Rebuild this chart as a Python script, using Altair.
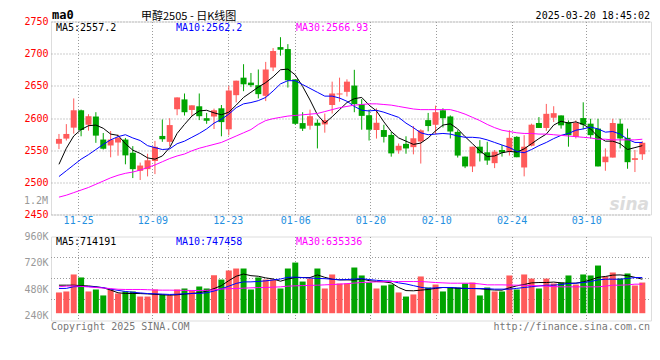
import altair as alt
import pandas as pd

# ---------------- data ----------------
opens = [2560, 2568, 2585, 2612, 2589.5, 2602.3, 2566.5, 2557.3, 2561.9, 2566.5,
         2546, 2517.9, 2520.5, 2533.2, 2572.1, 2562.9, 2613.6, 2628.9, 2612.5, 2618.2,
         2599.7, 2602.3, 2615.1, 2582.4, 2635.5, 2662.7, 2655, 2650.9, 2634.5, 2678.5,
         2710.2, 2707.2, 2660.1, 2592.1, 2588, 2592.6, 2590, 2620.2, 2636.6, 2640.7,
         2650.4, 2621.2, 2604.3, 2581.3, 2581.3, 2573.7, 2549.6, 2559.8, 2554.7, 2563.4,
         2596.7, 2589.5, 2612, 2602.4, 2578.4, 2540, 2524.7, 2555.4, 2546.7, 2529.8,
         2550.3, 2547.7, 2570.7, 2523.1, 2556.9, 2592.2, 2584.5, 2600.4, 2604, 2593.7,
         2570.7, 2599.9, 2591.2, 2583.5, 2531.3, 2538.5, 2591.2, 2569.2, 2534.9, 2543.6]
highs = [2575.2, 2590.5, 2630.4, 2613, 2605.9, 2609, 2576.7, 2579.8, 2574.2, 2569,
         2556.3, 2530.7, 2544.5, 2564.4, 2597.7, 2599.7, 2632, 2638.1, 2619.7, 2638.1,
         2607.9, 2614.6, 2620.2, 2649.9, 2658, 2683.6, 2670, 2675.4, 2687.2, 2708.7,
         2725.6, 2714.8, 2660.1, 2609, 2613, 2597.7, 2606.9, 2656.5, 2662.7, 2660.1,
         2674.9, 2629.4, 2613, 2615.1, 2589.5, 2578.3, 2560.4, 2571.6, 2587.5, 2582.4,
         2607.9, 2619.2, 2615.1, 2604, 2581, 2540, 2555.4, 2565.6, 2563, 2550.3,
         2557.9, 2581, 2571.7, 2573.3, 2591.2, 2601.4, 2621.9, 2618.3, 2604, 2596.3,
         2596.3, 2624.4, 2598.8, 2598.8, 2552.8, 2598.8, 2598.8, 2583.5, 2550.3, 2564]
lows = [2551.7, 2565, 2575.7, 2571.6, 2580.3, 2561.4, 2551, 2538.9, 2541.4, 2528,
        2506.6, 2503.6, 2509.2, 2512.8, 2563, 2556.3, 2604.3, 2603.8, 2603.3, 2596.7,
        2591, 2582.9, 2571.6, 2573.1, 2624.3, 2641.7, 2648, 2630.4, 2626.3, 2672.9,
        2696.9, 2647.3, 2589.5, 2579.8, 2581.8, 2552.7, 2577.2, 2606.9, 2625.3, 2633.5,
        2609, 2581.8, 2565, 2568, 2561.9, 2539.9, 2544.5, 2544.5, 2543.5, 2529.2,
        2579.3, 2574.7, 2585.4, 2568.2, 2538.5, 2522.1, 2516, 2532.4, 2527.2, 2522.1,
        2540, 2541.6, 2539, 2509.3, 2555.9, 2584.5, 2579.9, 2593.7, 2583.5, 2555.4,
        2568.2, 2582.5, 2568.2, 2524.7, 2518, 2538.5, 2552.8, 2521.1, 2516, 2534.9]
closes = [2567.5, 2575.2, 2612, 2581.3, 2602.8, 2572.6, 2552.2, 2566.5, 2569, 2541.9,
          2520.5, 2526.1, 2534.3, 2555.2, 2567, 2589, 2632, 2609, 2619.7, 2602.8,
          2595.7, 2612, 2593.6, 2642.7, 2658, 2652.4, 2651, 2637.1, 2675.4, 2704.1,
          2706.1, 2658.6, 2591, 2583.4, 2602.8, 2588, 2596.7, 2638.1, 2638.1, 2656.5,
          2621.7, 2603.3, 2581.8, 2592.6, 2570.6, 2545, 2556.8, 2552.7, 2568.5, 2580.8,
          2587.5, 2609, 2599.7, 2579, 2541.6, 2524.7, 2555.4, 2545.1, 2533.9, 2547.7,
          2546.2, 2569.2, 2539, 2555.4, 2589.6, 2584.5, 2606.5, 2607.5, 2588.6, 2573.3,
          2592.2, 2589.6, 2573.3, 2524.7, 2540, 2592.2, 2568.2, 2531.3, 2537.5, 2561.5]
ma5 = [2528, 2553, 2572, 2582, 2588, 2589, 2584, 2575, 2573, 2560,
       2550, 2545, 2538, 2536, 2541, 2554, 2576, 2590, 2603, 2611,
       2612, 2608, 2605, 2609, 2620, 2632, 2640, 2648, 2655, 2664,
       2675, 2676, 2667, 2649, 2628, 2605, 2592, 2602, 2613, 2624,
       2630, 2632, 2620, 2611, 2594, 2579, 2569, 2564, 2559, 2561,
       2569, 2580, 2589, 2591, 2583, 2571, 2560, 2549, 2540, 2541,
       2546, 2548, 2547, 2552, 2560, 2568, 2575, 2589, 2595, 2592,
       2594, 2590, 2583, 2571, 2564, 2564, 2560, 2551, 2554, 2557]
ma10 = [2509, 2518, 2527, 2536, 2543, 2551, 2559, 2566, 2571, 2574,
        2569, 2565, 2557, 2554, 2551, 2552, 2560, 2564, 2570, 2576,
        2583, 2592, 2598, 2606, 2616, 2622, 2624, 2627, 2632, 2642,
        2653, 2658, 2658, 2652, 2646, 2640, 2634, 2634, 2631, 2626,
        2618, 2612, 2611, 2612, 2609, 2605, 2601, 2592, 2585, 2577,
        2574, 2575, 2576, 2575, 2572, 2570, 2570, 2569, 2566, 2562,
        2558, 2554, 2548, 2546, 2551, 2557, 2562, 2568, 2573, 2576,
        2581, 2583, 2586, 2583, 2578, 2579, 2575, 2567, 2562, 2562]
ma30 = [2477, 2480, 2484, 2488, 2492, 2497, 2502, 2507, 2511, 2514,
        2516, 2519, 2523, 2527, 2532, 2537, 2541, 2544, 2549, 2553,
        2556, 2559, 2562, 2567, 2572, 2577, 2582, 2590, 2596, 2599,
        2601, 2603, 2604, 2605, 2606, 2607, 2610, 2613, 2616, 2618,
        2620, 2621, 2622, 2622, 2621, 2620, 2618, 2616, 2614, 2613,
        2613, 2613, 2613, 2613, 2610, 2606, 2601, 2596, 2590, 2585,
        2581, 2579, 2577, 2576, 2576, 2575, 2575, 2574, 2573, 2572,
        2571, 2570, 2569, 2567, 2567, 2566, 2566, 2566, 2566, 2567]
volume_k = [453, 462, 616, 589, 462, 480, 426, 480, 444, 462,
            462, 416, 416, 480, 435, 426, 480, 489, 471, 507,
            489, 609, 570, 652, 670, 670, 480, 589, 570, 570,
            489, 670, 724, 552, 579, 670, 489, 616, 534, 534,
            679, 607, 543, 489, 516, 525, 453, 416, 435, 598,
            498, 525, 462, 498, 498, 534, 543, 426, 498, 462,
            462, 607, 480, 616, 579, 489, 579, 534, 543, 607,
            525, 616, 607, 697, 598, 634, 579, 625, 516, 543]
vma5 = [519, 519, 519, 515, 512, 505, 495, 475, 450, 444,
        444, 443, 440, 436, 432, 428, 432, 438, 444, 450,
        465, 488, 515, 560, 600, 620, 605, 600, 585, 575,
        555, 575, 588, 588, 588, 612, 590, 573, 567, 567,
        565, 575, 560, 552, 549, 540, 498, 470, 468, 474,
        480, 490, 498, 496, 490, 489, 489, 486, 480, 475,
        474, 495, 513, 525, 540, 543, 543, 547, 540, 537,
        537, 549, 567, 590, 598, 610, 612, 605, 590, 573]
vma10 = [489, 490, 505, 507, 507, 502, 497, 483, 472, 462,
         455, 449, 443, 441, 438, 435, 437, 441, 444, 444,
         450, 466, 486, 510, 535, 549, 549, 553, 558, 566,
         575, 590, 592, 588, 584, 580, 578, 573, 568, 570,
         575, 578, 570, 563, 558, 556, 540, 530, 515, 500,
         490, 495, 498, 498, 494, 490, 489, 489, 487, 483,
         483, 483, 490, 498, 505, 512, 519, 519, 525, 534,
         537, 543, 552, 567, 573, 573, 573, 580, 588, 588]
vma30 = [505, 510, 513, 508, 503, 498, 493, 488, 482, 480,
         480, 480, 478, 475, 474, 474, 473, 472, 471, 471,
         472, 477, 484, 487, 489, 492, 495, 497, 498, 501,
         504, 510, 513, 515, 517, 519, 522, 525, 528, 533,
         538, 543, 546, 549, 551, 552, 552, 552, 552, 552,
         548, 543, 540, 537, 537, 537, 536, 530, 522, 522,
         522, 520, 519, 519, 515, 513, 510, 506, 504, 504,
         504, 504, 504, 504, 510, 519, 519, 522, 528, 528]

tick_pos = [2.6, 12.65, 22.86, 32.0, 42.17, 51.1, 61.3, 71.4]
tick_labels = ["11-25", "12-09", "12-23", "01-06", "01-20", "02-10", "02-24", "03-10"]
price_ticks = [2450, 2500, 2550, 2600, 2650, 2700, 2750]
vol_ticks = [240, 480, 720, 960]
price_ma_labels = ["MA5:2557.2", "MA10:2562.2", "MA30:2566.93"]
vol_ma_labels = ["MA5:714191", "MA10:747458", "MA30:635336"]
title_code = "ma0"
title_name = "甲醇2505 - 日K线图"
timestamp = "2025-03-20 18:45:02"
overlay_label = "1.2M"
footer_left = "Copyright 2025 SINA.COM"
footer_right = "http://finance.sina.com.cn"
watermark = "sina"

# ---------------- styles ----------------
RED = "#ff5a5a"
GREEN = "#00a400"
MA_COLORS = ["#000000", "#0000ff", "#ff00ff"]
GRID = "#9a9a9a"
MONO = "DejaVu Sans Mono"
W, H1, H2 = 600, 193, 84

n = len(closes)
df = pd.DataFrame({
    "i": list(range(n)), "open": opens, "high": highs, "low": lows, "close": closes,
    "ma5": ma5, "ma10": ma10, "ma30": ma30,
    "vol": volume_k, "vma5": vma5, "vma10": vma10, "vma30": vma30,
})
df["dir"] = ["up" if c >= o else "down" for o, c in zip(opens, closes)]

x_scale = alt.Scale(domain=[-0.4, 79.5], nice=False, zero=False)
label_expr = "[" + ",".join(f"'{t}'" for t in tick_labels) + "][indexof([" + \
    ",".join(str(p) for p in tick_pos) + "], datum.value)]"
x_axis_top = alt.Axis(values=tick_pos, labelExpr=label_expr, grid=True, gridDash=[1, 2],
                      gridColor=GRID, ticks=False, tickSize=0, domain=False, labelColor="#2490e0",
                      labelFont=MONO, labelFontSize=10, labelPadding=1, labelFlush=False,
                      title=None, minExtent=15, maxExtent=15)
x_axis_bot = alt.Axis(values=tick_pos, labels=False, grid=True, gridDash=[1, 2], gridColor=GRID,
                      ticks=False, tickSize=0, domain=False, title=None, minExtent=0, maxExtent=0)
X_top = alt.X("i:Q", scale=x_scale, axis=x_axis_top)
X_bot = alt.X("i:Q", scale=x_scale, axis=x_axis_bot)

p_scale = alt.Scale(domain=[2450, 2750], nice=False, zero=False)
p_axis = alt.Axis(values=price_ticks, format="d", grid=True, gridDash=[1, 2], gridColor=GRID,
                  ticks=False, tickSize=0, domain=False, labelColor="#ff0000", labelFont=MONO,
                  labelFontSize=10, labelPadding=3, title=None, minExtent=42, maxExtent=42)
v_domain = [199, 960]
v_base = 265
v_scale = alt.Scale(domain=v_domain, nice=False, zero=False)
v_axis = alt.Axis(values=vol_ticks, labelExpr="datum.value + 'K'", grid=False, ticks=False,
                  tickSize=0, domain=False, labelColor="#999999", labelFont=MONO, labelFontSize=10,
                  labelPadding=3, title=None, minExtent=42, maxExtent=42)
dir_color = alt.Color("dir:N", scale=alt.Scale(domain=["up", "down"], range=[RED, GREEN]), legend=None)

base = alt.Chart(df)


def label(text, x, y, **style):
    return alt.Chart(pd.DataFrame({"t": [text]})).mark_text(**style).encode(
        text="t:N", x=alt.value(x), y=alt.value(y))


mono = dict(font=MONO, fontSize=10, align="left", baseline="middle")

# ---------------- price panel ----------------
wick = base.mark_rule(strokeWidth=1).encode(
    x=X_top, y=alt.Y("low:Q", scale=p_scale, axis=p_axis), y2="high:Q", color=dir_color)
body = base.mark_bar(size=6).encode(
    x=X_top, y=alt.Y("open:Q", scale=p_scale, axis=p_axis), y2="close:Q", color=dir_color)
price_lines = [
    base.mark_line(strokeWidth=1, color=c).encode(x=X_top, y=alt.Y(f"{f}:Q", scale=p_scale, axis=p_axis))
    for f, c in zip(["ma5", "ma10", "ma30"], MA_COLORS)
]
top_texts = [
    label(price_ma_labels[0], 5, 6.5, color=MA_COLORS[0], **mono),
    label(price_ma_labels[1], 125, 6.5, color=MA_COLORS[1], **mono),
    label(price_ma_labels[2], 245, 6.5, color=MA_COLORS[2], **mono),
    label(title_code, 1, -2.5, font=MONO, fontSize=12, fontWeight="bold", align="left",
          baseline="alphabetic"),
    label(title_name, 90, -1.8, font="Noto Sans CJK SC", fontSize=11, align="left",
          baseline="alphabetic"),
    label(timestamp, 599, -3, color="#000000", font=MONO, fontSize=10, align="right",
          baseline="alphabetic"),
    label(overlay_label, -3, 179, color="#999999", font=MONO, fontSize=10, align="right",
          baseline="middle"),
    label(watermark, 598, 183, color="#dcdcdc", font="DejaVu Sans", fontSize=17, fontWeight="bold",
          fontStyle="italic", align="right", baseline="middle"),
]
top = alt.layer(wick, body, *price_lines, *top_texts).properties(width=W, height=H1)

# ---------------- volume panel ----------------
grid_df = pd.DataFrame({"g": [v_domain[0] + (v_domain[1] - v_domain[0]) * f for f in (0.25, 0.5, 0.75)]})
v_grid = alt.Chart(grid_df).mark_rule(color=GRID, strokeDash=[1, 2], strokeWidth=1).encode(
    y=alt.Y("g:Q", scale=v_scale, axis=v_axis), x=alt.value(0), x2=alt.value(W))
vbars = base.mark_bar(size=6).encode(
    x=X_bot, y=alt.Y("vol:Q", scale=v_scale, axis=v_axis), y2=alt.datum(v_base), color=dir_color)
vol_lines = [
    base.mark_line(strokeWidth=1, color=c).encode(x=X_bot, y=alt.Y(f"{f}:Q", scale=v_scale, axis=v_axis))
    for f, c in zip(["vma5", "vma10", "vma30"], MA_COLORS)
]
bot_texts = [
    label(vol_ma_labels[0], 5, 5.5, color=MA_COLORS[0], **mono),
    label(vol_ma_labels[1], 125, 5.5, color=MA_COLORS[1], **mono),
    label(vol_ma_labels[2], 245, 5.5, color=MA_COLORS[2], **mono),
    label(footer_left, 0, 90, color="#777777", **mono),
    label(footer_right, 599, 90, color="#777777", font=MONO, fontSize=10, align="right", baseline="middle"),
]
bottom = alt.layer(v_grid, vbars, *vol_lines, *bot_texts).properties(width=W, height=H2)

chart = alt.vconcat(top, bottom, spacing=0).properties(
    padding={"left": 0, "top": 0.5, "right": 0, "bottom": 0}
).configure_view(stroke="#999999", strokeWidth=1).configure(background="white")

chart.save("out.html", embed_options={"renderer": "svg", "actions": False})
